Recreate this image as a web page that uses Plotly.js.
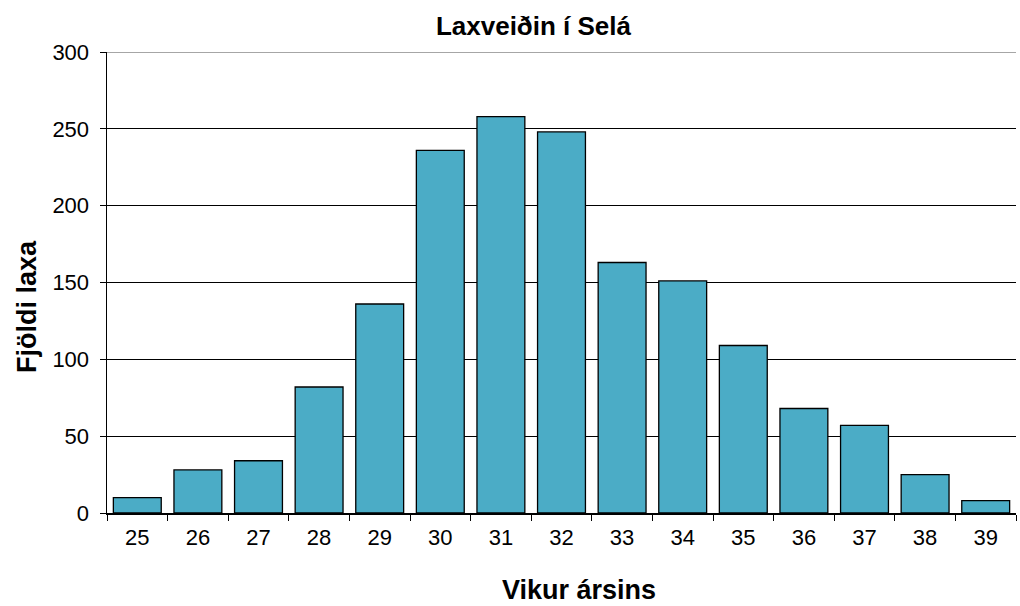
<!DOCTYPE html>
<html>
<head>
<meta charset="utf-8">
<script src="https://cdn.plot.ly/plotly-3.0.1.min.js"></script>
<style>html,body{margin:0;padding:0;background:#fff;}#chart{width:1020px;height:606px;}</style>
</head>
<body>
<div id="chart"></div>
<script>
const weeks = ["25","26","27","28","29","30","31","32","33","34","35","36","37","38","39"];
const counts = [10, 28, 34, 82, 136, 236, 258, 248, 163, 151, 109, 68, 57, 25, 8];
const yTicks = [0, 50, 100, 150, 200, 250, 300];

const trace = {
  type: 'bar',
  x: weeks,
  y: counts,
  marker: {color: '#4BACC6', line: {color: '#000000', width: 1.3}},
  hoverinfo: 'x+y'
};

const layout = {
  width: 1020, height: 606,
  margin: {l: 107, r: 4, t: 52, b: 93},
  paper_bgcolor: '#ffffff', plot_bgcolor: '#ffffff',
  bargap: 0.21,
  font: {family: 'Liberation Sans, Arial, sans-serif', color: '#000'},
  title: {text: '<b>Laxveiðin í Selá</b>', x: 0.523, xanchor: 'center', y: 0.958, yanchor: 'middle',
          font: {size: 26, family: 'Liberation Sans, Arial, sans-serif', color: '#000'}},
  xaxis: {
    type: 'category',
    tickson: 'boundaries',
    ticks: 'outside', ticklen: 6, tickcolor: '#000', tickwidth: 1,
    ticklabelstandoff: 4,
    showline: true, linecolor: '#000', linewidth: 1.5,
    tickfont: {size: 22},
    showgrid: false, zeroline: false
  },
  yaxis: {
    range: [0, 300],
    tickvals: yTicks,
    ticktext: yTicks.map(String),
    ticks: 'outside', ticklen: 6, tickcolor: '#000', tickwidth: 1,
    ticklabelstandoff: 6,
    showline: true, linecolor: '#000', linewidth: 1.5,
    showgrid: true, gridcolor: '#000', gridwidth: 1,
    zeroline: false,
    tickfont: {size: 22}
  },
  annotations: [
    {text: '<b>Vikur ársins</b>', xref: 'paper', yref: 'paper', x: 0.519, y: -0.167,
     xanchor: 'center', yanchor: 'middle', showarrow: false, font: {size: 27, color: '#000'}},
    {text: '<b>Fjöldi laxa</b>', xref: 'paper', yref: 'paper', x: -0.088, y: 0.447,
     xanchor: 'center', yanchor: 'middle', textangle: -90, showarrow: false, font: {size: 27, color: '#000'}}
  ],
  shapes: [
    {type: 'line', xref: 'paper', yref: 'y', x0: 0, x1: 1, y0: 300, y1: 300,
     line: {color: '#888888', width: 1.5}}
  ],
  showlegend: false
};

Plotly.newPlot('chart', [trace], layout, {displayModeBar: false, staticPlot: true});
</script>
</body>
</html>
